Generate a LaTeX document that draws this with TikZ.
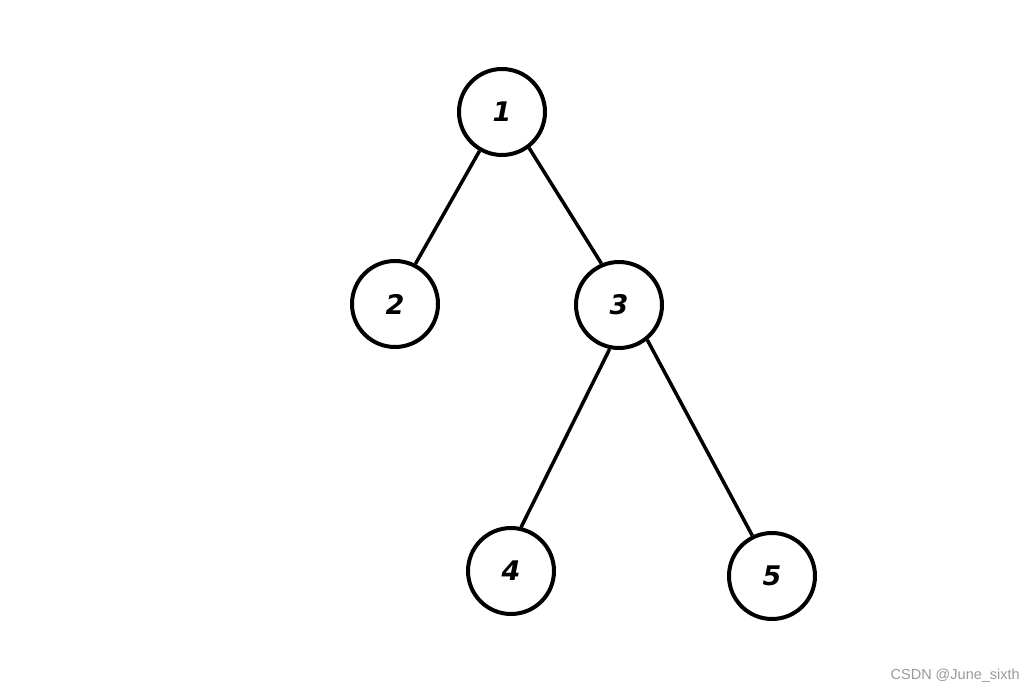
\documentclass[tikz,border=0pt]{standalone}
\usepackage{fontspec}
\newfontfamily\wmfont{Liberation Sans}
\newfontfamily\digfont{DejaVu Sans}
\begin{document}
\begin{tikzpicture}[x=1pt,y=-1pt,
  tnode/.style={circle,draw=black,line width=4pt,minimum size=86pt,inner sep=0pt,
    font=\digfont\fontsize{27}{30}\selectfont\bfseries\itshape},
  edge/.style={draw=black,line width=3.5pt}]
\useasboundingbox (0,0) rectangle (1034,692);
\node[tnode] (n1) at (502,112) {1};
\node[tnode] (n2) at (395,304) {2};
\node[tnode] (n3) at (619,305) {3};
\node[tnode] (n4) at (511,571) {4};
\node[tnode] (n5) at (772,576) {5};
\draw[edge] (n1.240) -- (n2.63);
\draw[edge] (n1.307) -- (n3.113);
\draw[edge] (n3.258) -- (n4.77);
\draw[edge] (n3.309) -- (n5.116);
\node[anchor=east,text=black!40,font=\wmfont\fontsize{14.5}{16}\selectfont,inner sep=0pt] (wm) at (1020,676) {CSDN @June\_sixth};
\end{tikzpicture}
\end{document}
